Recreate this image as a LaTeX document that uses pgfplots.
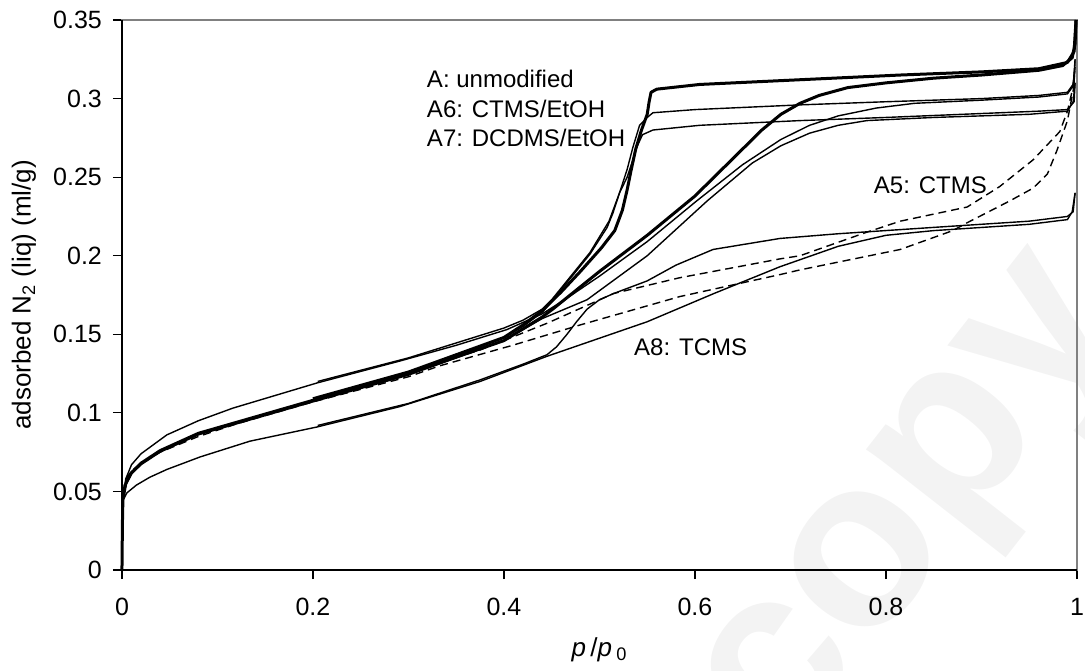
\documentclass[border=0pt]{standalone}
\usepackage{pgfplots}
\pgfplotsset{compat=1.18}
\usepackage{fontspec}
\setmainfont{Liberation Sans}
\definecolor{wm}{RGB}{243,243,243}
\definecolor{framegray}{RGB}{128,128,128}
\begin{document}
\begin{tikzpicture}
% watermark behind everything (axis origin is at (0,0))
\node[wm, rotate=52, font=\fontsize{120}{120}\bfseries\selectfont]
  at (401.6pt,26.9pt) {copy};
\begin{axis}[
    scale only axis, width=477.5pt, height=275pt,
    xmin=0, xmax=1, ymin=0, ymax=0.35,
    xtick={0,0.2,...,1}, ytick={0,0.05,...,0.35},
    xticklabels={0,0.2,0.4,0.6,0.8,1},
    yticklabels={0,0.05,0.1,0.15,0.2,0.25,0.3,0.35},
    tick align=outside, xtick pos=left, ytick pos=left,
    major tick length=4.5pt,
    tick style={black, line width=0.6pt},
    axis line style={framegray, line width=0.6pt},
    tick label style={font=\fontsize{12.5}{14}\selectfont},
    xticklabel style={yshift=-6pt},
    yticklabel style={xshift=-2pt},
    label style={font=\fontsize{13}{15}\selectfont},
    xlabel={\textit{p}\,/\textit{p}\,\textsubscript{0}},
    ylabel={adsorbed N\textsubscript{2} (liq) (ml/g)},
    xlabel style={at={(axis description cs:0.5,-0.145)}, anchor=center},
    ylabel style={at={(axis description cs:-0.1026,0.5)}, anchor=center},
    clip=false,
    every axis plot/.append style={black, line join=round, mark=none},
    thin/.style={line width=0.7pt},
    fat/.style={line width=1.5pt},
    dsh/.style={line width=0.7pt, dash pattern=on 4pt off 2.5pt},
    extra description/.code={
      \draw[black, line width=0.6pt] (0,1) -- (0,0) -- (1,0);
      \coordinate (bbsw) at (-0.1277,-0.1818);
      \coordinate (bbne) at (1.0084,1.0364);
    },
  ]
% A: unmodified
\addplot[fat] coordinates {(0,0) (0.0005,0.03) (0.001,0.045) (0.004,0.055) (0.01,0.062) (0.02,0.068) (0.04,0.076) (0.08,0.087) (0.12,0.094) (0.2,0.108) (0.3,0.125) (0.4,0.146) (0.44,0.161) (0.451,0.166) (0.5,0.190) (0.55,0.213) (0.6,0.238) (0.64,0.262) (0.67,0.280) (0.69,0.290) (0.71,0.297) (0.73,0.302) (0.76,0.307) (0.8,0.310) (0.85,0.313) (0.9,0.315) (0.96,0.318) (0.985,0.321) (0.995,0.326) (0.998,0.335) (0.999,0.35)};
\addplot[fat] coordinates {(0.999,0.35) (0.997,0.330) (0.99,0.323) (0.96,0.319) (0.9,0.317) (0.815,0.315) (0.71,0.312) (0.605,0.309) (0.56,0.306) (0.554,0.304) (0.552,0.298) (0.550,0.290) (0.544,0.280) (0.538,0.268) (0.533,0.254) (0.529,0.242) (0.524,0.229) (0.516,0.216) (0.502,0.205) (0.48,0.190) (0.46,0.177) (0.45,0.171) (0.44,0.165) (0.42,0.156) (0.40,0.148) (0.3,0.126) (0.2,0.109)};

% A6: CTMS/EtOH
\addplot[thin] coordinates {(0,0) (0.0005,0.03) (0.001,0.046) (0.004,0.058) (0.01,0.067) (0.02,0.074) (0.047,0.086) (0.08,0.095) (0.116,0.103) (0.204,0.119) (0.291,0.133) (0.35,0.143) (0.403,0.153) (0.44,0.163) (0.466,0.173) (0.5,0.187) (0.55,0.209) (0.602,0.235) (0.65,0.258) (0.69,0.274) (0.72,0.283) (0.75,0.289) (0.79,0.294) (0.83,0.297) (0.9,0.299) (0.96,0.301) (0.99,0.303) (0.996,0.308) (0.998,0.325)};
\addplot[thin] coordinates {(0.998,0.325) (0.997,0.31) (0.99,0.304) (0.96,0.302) (0.9,0.300) (0.8,0.298) (0.71,0.296) (0.6,0.293) (0.556,0.291) (0.55,0.288) (0.542,0.283) (0.535,0.269) (0.529,0.255) (0.521,0.240) (0.51,0.222) (0.49,0.202) (0.47,0.187) (0.45,0.172) (0.44,0.166) (0.42,0.159) (0.40,0.154) (0.3,0.135) (0.205,0.120)};

% A7: DCDMS/EtOH
\addplot[thin] coordinates {(0,0) (0.0005,0.03) (0.001,0.044) (0.004,0.054) (0.01,0.061) (0.02,0.067) (0.04,0.075) (0.08,0.086) (0.12,0.093) (0.2,0.107) (0.3,0.124) (0.4,0.146) (0.44,0.160) (0.487,0.172) (0.55,0.200) (0.613,0.235) (0.66,0.259) (0.69,0.270) (0.72,0.278) (0.75,0.283) (0.78,0.286) (0.85,0.288) (0.95,0.290) (0.99,0.292) (0.996,0.298) (0.998,0.31)};
\addplot[thin] coordinates {(0.998,0.31) (0.997,0.298) (0.99,0.293) (0.96,0.292) (0.8,0.288) (0.71,0.286) (0.605,0.283) (0.556,0.280) (0.545,0.277) (0.539,0.269) (0.535,0.261) (0.529,0.250) (0.521,0.240) (0.514,0.227) (0.508,0.218) (0.49,0.201) (0.47,0.186) (0.45,0.171) (0.44,0.164) (0.42,0.155) (0.4,0.148) (0.3,0.125) (0.2,0.108)};

% A5: CTMS
\addplot[dsh] coordinates {(0,0) (0.0005,0.03) (0.001,0.048) (0.003,0.057) (0.01,0.063) (0.02,0.068) (0.04,0.075) (0.08,0.085) (0.12,0.093) (0.2,0.107) (0.3,0.123) (0.333,0.130) (0.409,0.143) (0.48,0.156) (0.584,0.174) (0.689,0.188) (0.71,0.191) (0.815,0.204) (0.87,0.216) (0.885,0.221) (0.93,0.235) (0.954,0.243) (0.969,0.252) (0.979,0.267) (0.99,0.286) (0.996,0.305) (0.998,0.32)};
\addplot[dsh] coordinates {(0.998,0.32) (0.995,0.305) (0.99,0.292) (0.982,0.279) (0.954,0.261) (0.919,0.244) (0.885,0.231) (0.815,0.222) (0.78,0.215) (0.71,0.200) (0.689,0.198) (0.584,0.186) (0.515,0.176) (0.445,0.157) (0.375,0.140) (0.3,0.126) (0.2,0.109)};

% A8: TCMS
\addplot[thin] coordinates {(0,0) (0.0005,0.03) (0.001,0.044) (0.005,0.049) (0.015,0.054) (0.029,0.059) (0.047,0.064) (0.082,0.072) (0.134,0.082) (0.204,0.091) (0.291,0.104) (0.375,0.120) (0.445,0.136) (0.55,0.158) (0.62,0.176) (0.689,0.193) (0.75,0.206) (0.8,0.213) (0.85,0.216) (0.95,0.220) (0.99,0.223) (0.995,0.228) (0.998,0.24)};
\addplot[thin] coordinates {(0.998,0.24) (0.996,0.228) (0.99,0.225) (0.95,0.222) (0.849,0.218) (0.75,0.214) (0.689,0.211) (0.619,0.204) (0.58,0.194) (0.55,0.184) (0.515,0.176) (0.50,0.172) (0.487,0.166) (0.476,0.158) (0.466,0.150) (0.455,0.142) (0.445,0.137) (0.42,0.131) (0.375,0.121) (0.3,0.106) (0.205,0.092)};

\node[anchor=west, font=\fontsize{12}{14}\selectfont] at (axis cs:0.312,0.3125) {A: unmodified};
\node[anchor=west, font=\fontsize{12}{14}\selectfont] at (axis cs:0.312,0.2934) {A6: CTMS/EtOH};
\node[anchor=west, font=\fontsize{12}{14}\selectfont] at (axis cs:0.312,0.2750) {A7: DCDMS/EtOH};
\node[anchor=west, font=\fontsize{12}{14}\selectfont] at (axis cs:0.780,0.2450) {A5: CTMS};
\node[anchor=west, font=\fontsize{12}{14}\selectfont] at (axis cs:0.529,0.1420) {A8: TCMS};
\end{axis}
\pgfresetboundingbox
\path[use as bounding box] (bbsw) rectangle (bbne);
\end{tikzpicture}
\end{document}
